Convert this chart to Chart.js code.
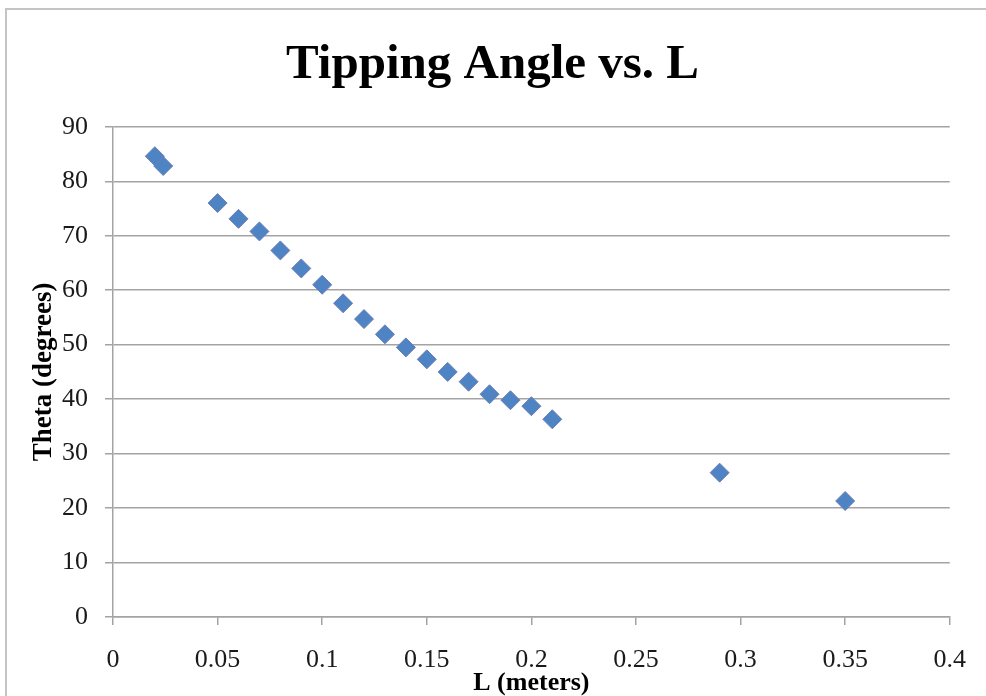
<!DOCTYPE html>
<html>
<head>
<meta charset="utf-8">
<title>Tipping Angle vs. L</title>
<script src="https://cdn.jsdelivr.net/npm/chart.js@4/dist/chart.umd.min.js"></script>
<style>
  html, body { margin: 0; padding: 0; background: #fff; }
  #wrap { position: relative; width: 986px; height: 696px; }
  #frame { position: absolute; left: 5px; top: 8px; width: 1000px; height: 700px;
           border-top: 2px solid #c4c4c4; border-left: 2px solid #c4c4c4; }
  canvas { position: absolute; left: 0; top: 0; }
</style>
</head>
<body>
<div id="wrap">
  <div id="frame"></div>
  <canvas id="tipChart" width="986" height="696"></canvas>
</div>
<script>
// measured lengths (m) and tipping angles (deg)
const lengths = [0.02, 0.024, 0.05, 0.06, 0.07, 0.08, 0.09, 0.10, 0.11, 0.12, 0.13,
                 0.14, 0.15, 0.16, 0.17, 0.18, 0.19, 0.20, 0.21, 0.29, 0.35];
const angles = [84.6, 82.8, 76.0, 73.1, 70.8, 67.3, 64.0, 61.0, 57.6, 54.7, 51.9,
                49.5, 47.3, 45.0, 43.2, 40.9, 39.8, 38.7, 36.3, 26.5, 21.3];

const xTickLabels = ['0', '0.05', '0.1', '0.15', '0.2', '0.25', '0.3', '0.35', '0.4'];
const yTickLabels = ['0', '10', '20', '30', '40', '50', '60', '70', '80', '90'];

const points = lengths.map((l, i) => ({ x: l, y: angles[i] }));

const serif = "'Liberation Serif', 'Times New Roman', serif";
const gridGray = '#a3a3a3';

const ctx = document.getElementById('tipChart').getContext('2d');
const tipChart = new Chart(ctx, {
  type: 'scatter',
  data: {
    datasets: [{
      label: 'Theta',
      data: points,
      pointStyle: 'rectRot',
      pointRadius: 9.5,
      pointHoverRadius: 9.5,
      backgroundColor: '#4F84C4',
      borderColor: '#6B7DB6',
      borderWidth: 1
    }]
  },
  options: {
    responsive: false,
    animation: false,
    layout: { padding: { left: 31, right: 32, top: 0, bottom: 0 } },
    plugins: {
      legend: { display: false },
      tooltip: { enabled: false },
      title: {
        display: true,
        text: 'Tipping Angle vs. L',
        color: '#000',
        font: { family: serif, size: 49, weight: 'bold', lineHeight: 1.2 },
        padding: { top: 36, bottom: 32 }
      }
    },
    scales: {
      x: {
        type: 'linear',
        min: 0,
        max: 0.4,
        afterFit: (s) => { s.height = 79; },
        afterBuildTicks: (s) => {
          s.ticks = xTickLabels.map((t) => ({ value: parseFloat(t) }));
        },
        ticks: {
          stepSize: 0.05,
          padding: 20,
          color: '#1a1a1a',
          font: { family: serif, size: 26 },
          maxRotation: 0,
          autoSkip: false,
          callback: (v, i) => xTickLabels[i]
        },
        grid: {
          drawOnChartArea: false,
          drawTicks: true,
          tickLength: 8,
          color: gridGray,
          lineWidth: 1.5
        },
        border: { display: true, color: gridGray, width: 1.5 },
        title: {
          display: true,
          text: 'L (meters)',
          color: '#000',
          font: { family: serif, size: 26, weight: 'bold', lineHeight: 1 },
          padding: 0
        }
      },
      y: {
        type: 'linear',
        min: 0,
        max: 90,
        afterFit: (s) => { s.width = 82; },
        ticks: {
          stepSize: 10,
          padding: 17,
          color: '#1a1a1a',
          font: { family: serif, size: 26 },
          callback: (v, i) => yTickLabels[i]
        },
        grid: {
          drawTicks: true,
          tickLength: 8,
          color: gridGray,
          lineWidth: 1.5
        },
        border: { display: true, color: gridGray, width: 1.5 },
        title: {
          display: true,
          text: 'Theta (degrees)',
          color: '#000',
          font: { family: serif, size: 27, weight: 'bold', lineHeight: 1 },
          padding: 0
        }
      }
    }
  }
});
</script>
</body>
</html>
